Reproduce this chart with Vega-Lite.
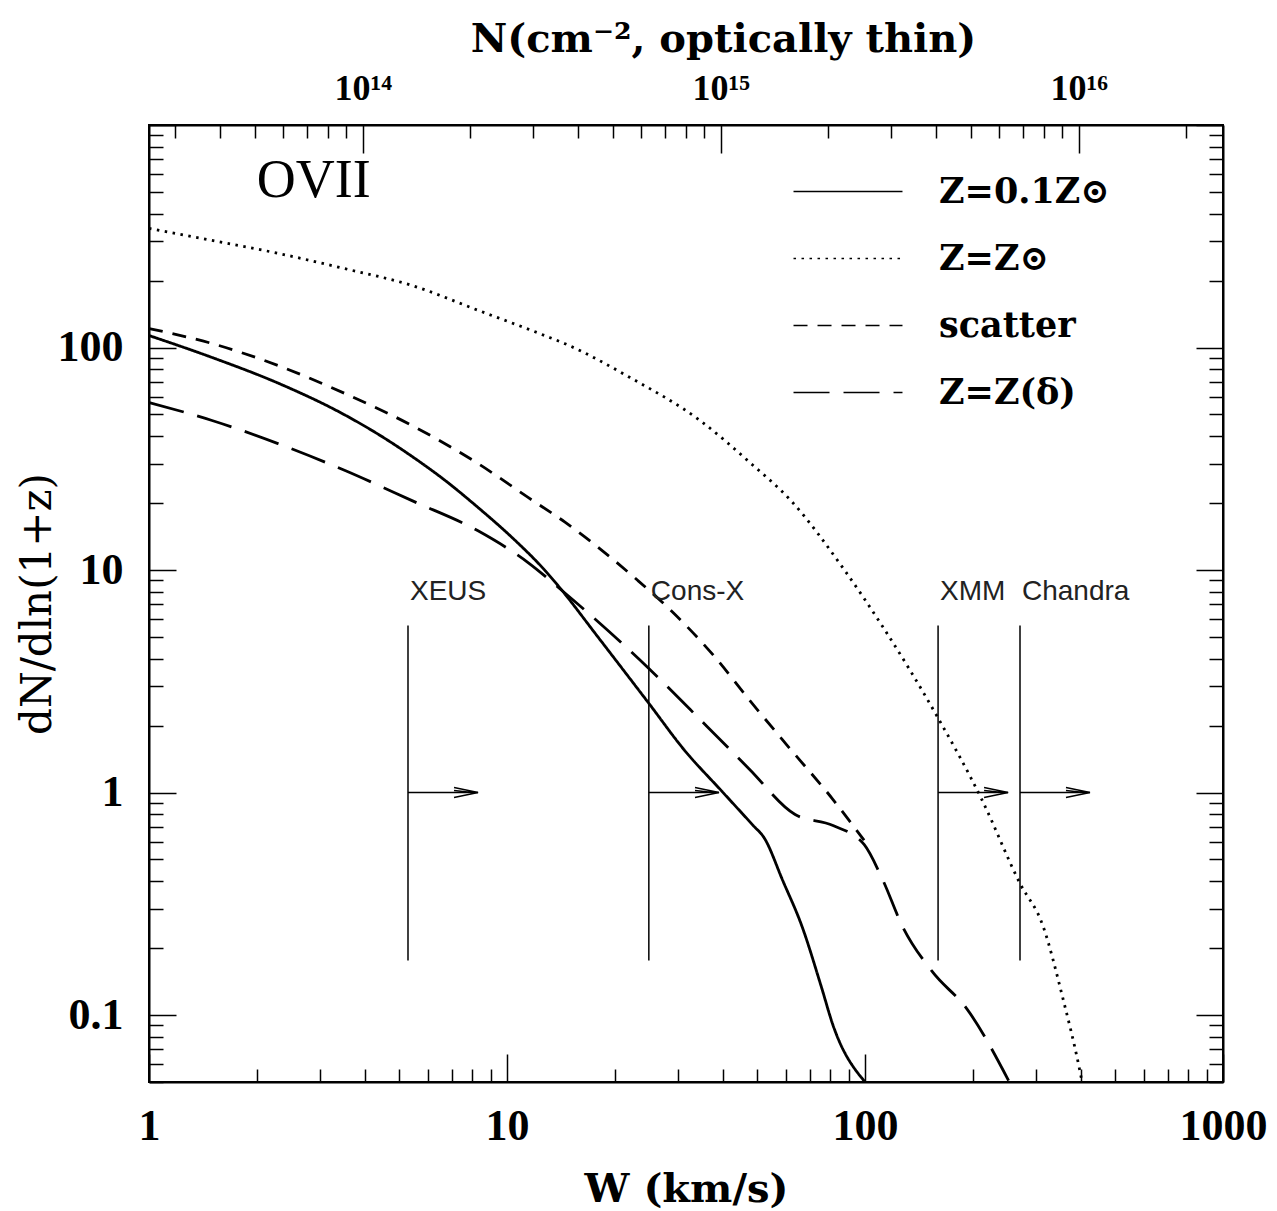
{
  "$schema": "https://vega.github.io/schema/vega-lite/v6.json",
  "width": 1074,
  "height": 957,
  "autosize": "none",
  "padding": {"left": 149, "top": 125, "right": 54, "bottom": 129},
  "background": "white",
  "config": {
    "view": {"stroke": "black", "strokeWidth": 2},
    "axis": {"grid": false}
  },
  "datasets": {
    "curves": [
      {"series": "Z=0.1Z⊙", "W": 1, "v": 113.2},
      {"series": "Z=0.1Z⊙", "W": 1.5, "v": 90.2},
      {"series": "Z=0.1Z⊙", "W": 2.293, "v": 69.2},
      {"series": "Z=0.1Z⊙", "W": 3.529, "v": 49.7},
      {"series": "Z=0.1Z⊙", "W": 4.363, "v": 40.8},
      {"series": "Z=0.1Z⊙", "W": 5.428, "v": 32.4},
      {"series": "Z=0.1Z⊙", "W": 6.71, "v": 25.3},
      {"series": "Z=0.1Z⊙", "W": 8.3, "v": 19.1},
      {"series": "Z=0.1Z⊙", "W": 10.33, "v": 14.0},
      {"series": "Z=0.1Z⊙", "W": 12.77, "v": 9.95},
      {"series": "Z=0.1Z⊙", "W": 14.24, "v": 8.1},
      {"series": "Z=0.1Z⊙", "W": 17.73, "v": 5.13},
      {"series": "Z=0.1Z⊙", "W": 24.93, "v": 2.51},
      {"series": "Z=0.1Z⊙", "W": 31.2, "v": 1.56},
      {"series": "Z=0.1Z⊙", "W": 39.9, "v": 1.01},
      {"series": "Z=0.1Z⊙", "W": 48.7, "v": 0.711},
      {"series": "Z=0.1Z⊙", "W": 52.2, "v": 0.628},
      {"series": "Z=0.1Z⊙", "W": 59.0, "v": 0.40},
      {"series": "Z=0.1Z⊙", "W": 66.7, "v": 0.25},
      {"series": "Z=0.1Z⊙", "W": 75.4, "v": 0.135},
      {"series": "Z=0.1Z⊙", "W": 81.4, "v": 0.09},
      {"series": "Z=0.1Z⊙", "W": 100, "v": 0.05},
      {"series": "Z=Z⊙", "W": 1, "v": 343},
      {"series": "Z=Z⊙", "W": 1.5, "v": 303},
      {"series": "Z=Z⊙", "W": 2.293, "v": 265},
      {"series": "Z=Z⊙", "W": 3.529, "v": 226},
      {"series": "Z=Z⊙", "W": 5.428, "v": 190},
      {"series": "Z=Z⊙", "W": 8.3, "v": 147},
      {"series": "Z=Z⊙", "W": 12.77, "v": 113},
      {"series": "Z=Z⊙", "W": 14.52, "v": 104},
      {"series": "Z=Z⊙", "W": 22.06, "v": 73.3},
      {"series": "Z=Z⊙", "W": 34.6, "v": 47.0},
      {"series": "Z=Z⊙", "W": 47.7, "v": 30.4},
      {"series": "Z=Z⊙", "W": 62.1, "v": 20.5},
      {"series": "Z=Z⊙", "W": 87.4, "v": 10.05},
      {"series": "Z=Z⊙", "W": 112, "v": 5.57},
      {"series": "Z=Z⊙", "W": 158, "v": 2.24},
      {"series": "Z=Z⊙", "W": 212, "v": 0.93},
      {"series": "Z=Z⊙", "W": 271, "v": 0.39},
      {"series": "Z=Z⊙", "W": 314, "v": 0.252},
      {"series": "Z=Z⊙", "W": 357, "v": 0.119},
      {"series": "Z=Z⊙", "W": 396, "v": 0.0587},
      {"series": "Z=Z⊙", "W": 404, "v": 0.05},
      {"series": "scatter", "W": 1, "v": 121.7},
      {"series": "scatter", "W": 1.5, "v": 104.2},
      {"series": "scatter", "W": 2.293, "v": 83.0},
      {"series": "scatter", "W": 3.529, "v": 62.1},
      {"series": "scatter", "W": 5.428, "v": 44.6},
      {"series": "scatter", "W": 8.3, "v": 30.1},
      {"series": "scatter", "W": 11.45, "v": 21.2},
      {"series": "scatter", "W": 14.52, "v": 16.4},
      {"series": "scatter", "W": 23.2, "v": 8.97},
      {"series": "scatter", "W": 28.9, "v": 6.51},
      {"series": "scatter", "W": 37.9, "v": 4.1},
      {"series": "scatter", "W": 47.4, "v": 2.62},
      {"series": "scatter", "W": 60.6, "v": 1.63},
      {"series": "scatter", "W": 81.4, "v": 0.93},
      {"series": "scatter", "W": 99.4, "v": 0.61},
      {"series": "Z=Z(δ)", "W": 1, "v": 56.6},
      {"series": "Z=Z(δ)", "W": 1.5, "v": 47.0},
      {"series": "Z=Z(δ)", "W": 2.293, "v": 37.0},
      {"series": "Z=Z(δ)", "W": 3.529, "v": 28.0},
      {"series": "Z=Z(δ)", "W": 5.428, "v": 20.5},
      {"series": "Z=Z(δ)", "W": 8.3, "v": 15.0},
      {"series": "Z=Z(δ)", "W": 11.45, "v": 10.8},
      {"series": "Z=Z(δ)", "W": 14.24, "v": 8.09},
      {"series": "Z=Z(δ)", "W": 24.9, "v": 3.61},
      {"series": "Z=Z(δ)", "W": 36.2, "v": 1.98},
      {"series": "Z=Z(δ)", "W": 47.4, "v": 1.28},
      {"series": "Z=Z(δ)", "W": 63.8, "v": 0.796},
      {"series": "Z=Z(δ)", "W": 81.4, "v": 0.711},
      {"series": "Z=Z(δ)", "W": 99.4, "v": 0.584},
      {"series": "Z=Z(δ)", "W": 112, "v": 0.406},
      {"series": "Z=Z(δ)", "W": 127, "v": 0.252},
      {"series": "Z=Z(δ)", "W": 154, "v": 0.157},
      {"series": "Z=Z(δ)", "W": 193, "v": 0.106},
      {"series": "Z=Z(δ)", "W": 253, "v": 0.05}
    ],
    "instruments": [
      {"name": "XEUS", "W": 5.29, "tip": 8.3, "lo": 0.176, "hi": 5.63, "arrow": 1, "labelV": 7.93},
      {"name": "Cons-X", "W": 24.9, "tip": 39.1, "lo": 0.176, "hi": 5.63, "arrow": 1, "labelV": 7.93},
      {"name": "XMM", "W": 160, "tip": 251, "lo": 0.176, "hi": 5.63, "arrow": 1, "labelV": 7.93},
      {"name": "Chandra", "W": 271, "tip": 425, "lo": 0.176, "hi": 5.63, "arrow": 1, "labelV": 7.93}
    ],
    "ion": [{"text": "OVII", "W": 2.0, "v": 563}]
  },
  "layer": [
    {
      "layer": [
        {
          "data": {"name": "curves"},
          "mark": {"type": "line", "clip": true, "color": "black", "strokeWidth": 2.8, "interpolate": "monotone"},
          "encoding": {
            "x": {
              "field": "W", "type": "quantitative",
              "scale": {"type": "log", "domain": [1, 1000]},
              "axis": {
                "orient": "bottom",
                "values": [1,2,3,4,5,6,7,8,9,10,20,30,40,50,60,70,80,90,100,200,300,400,500,600,700,800,900,1000],
                "labelExpr": "indexof([1,10,100,1000], datum.value) >= 0 ? toString(datum.value) : ''",
                "tickSize": {"condition": {"test": "abs(log(datum.value)/LN10 - round(log(datum.value)/LN10)) < 0.001", "value": -28}, "value": -13},
                "tickColor": "black", "tickWidth": 1.5,
                "domainColor": "black", "domainWidth": 2,
                "labelFont": "Liberation Serif", "labelFontWeight": "bold", "labelFontSize": 44, "labelColor": "black",
                "labelPadding": 50, "labelFlush": false, "labelOverlap": false, "labelBound": false,
                "title": "W (km/s)", "titleFont": "DejaVu Serif", "titleFontWeight": "bold", "titleFontSize": 40,
                "titleColor": "black", "titleY": 107, "titleBaseline": "middle"
              }
            },
            "y": {
              "field": "v", "type": "quantitative",
              "scale": {"type": "log", "domain": [0.05, 1000]},
              "axis": {
                "orient": "left",
                "values": [0.05,0.06,0.07,0.08,0.09,0.1,0.2,0.3,0.4,0.5,0.6,0.7,0.8,0.9,1,2,3,4,5,6,7,8,9,10,20,30,40,50,60,70,80,90,100,200,300,400,500,600,700,800,900,1000],
                "labelExpr": "indexof([0.1,1,10,100], datum.value) >= 0 ? toString(datum.value) : ''",
                "tickSize": {"condition": {"test": "abs(log(datum.value)/LN10 - round(log(datum.value)/LN10)) < 0.001", "value": -27}, "value": -14},
                "tickColor": "black", "tickWidth": 1.5,
                "domainColor": "black", "domainWidth": 2,
                "labelFont": "Liberation Serif", "labelFontWeight": "bold", "labelFontSize": 44, "labelColor": "black",
                "labelPadding": 53, "labelFlush": false, "labelOverlap": false, "labelBound": false,
                "title": "dN/dln(1+z)", "titleFont": "DejaVu Serif", "titleFontWeight": "normal", "titleFontSize": 42,
                "titleColor": "black", "titleX": -112, "titleBaseline": "middle"
              }
            },
            "strokeDash": {
              "field": "series", "type": "nominal",
              "scale": {
                "domain": ["Z=0.1Z⊙", "Z=Z⊙", "scatter", "Z=Z(δ)"],
                "range": [[1, 0], [2.5, 5.5], [14, 10], [36, 14]]
              },
              "legend": {
                "orient": "none", "legendX": 681.5, "legendY": 49,
                "title": null, "padding": 0,
                "symbolType": "M-5,0H5", "symbolSize": 475, "symbolStrokeWidth": 1.6,
                "symbolStrokeColor": "black",
                "labelFont": "DejaVu Serif", "labelFontWeight": "bold", "labelFontSize": 35, "labelColor": "black",
                "labelOffset": 73.5, "rowPadding": 31, "labelLimit": 0
              }
            }
          }
        },
        {
          "data": {"name": "instruments"},
          "mark": {"type": "rule", "color": "black", "strokeWidth": 1.5},
          "encoding": {
            "x": {"field": "W", "type": "quantitative", "scale": {"type": "log", "domain": [1, 1000]}},
            "y": {"field": "lo", "type": "quantitative", "scale": {"type": "log", "domain": [0.05, 1000]}},
            "y2": {"field": "hi"}
          }
        },
        {
          "data": {"name": "instruments"},
          "mark": {"type": "rule", "color": "black", "strokeWidth": 1.5},
          "encoding": {
            "x": {"field": "W", "type": "quantitative", "scale": {"type": "log", "domain": [1, 1000]}},
            "x2": {"field": "tip"},
            "y": {"field": "arrow", "type": "quantitative", "scale": {"type": "log", "domain": [0.05, 1000]}}
          }
        },
        {
          "data": {"name": "instruments"},
          "mark": {"type": "point", "shape": "M-2.4,-0.5L0,0L-2.4,0.5M-2.4,-0.2L-0.6,0", "filled": false, "color": "black", "strokeWidth": 1.5, "size": 400, "opacity": 1},
          "encoding": {
            "x": {"field": "tip", "type": "quantitative", "scale": {"type": "log", "domain": [1, 1000]}},
            "y": {"field": "arrow", "type": "quantitative", "scale": {"type": "log", "domain": [0.05, 1000]}}
          }
        },
        {
          "data": {"name": "instruments"},
          "mark": {"type": "text", "align": "left", "baseline": "middle", "dx": 2, "font": "Liberation Sans", "fontSize": 28, "color": "#222222"},
          "encoding": {
            "x": {"field": "W", "type": "quantitative", "scale": {"type": "log", "domain": [1, 1000]}},
            "y": {"field": "labelV", "type": "quantitative", "scale": {"type": "log", "domain": [0.05, 1000]}},
            "text": {"field": "name"}
          }
        },
        {
          "data": {"name": "ion"},
          "mark": {"type": "text", "align": "left", "baseline": "middle", "font": "Liberation Serif", "fontSize": 54, "color": "black"},
          "encoding": {
            "x": {"field": "W", "type": "quantitative", "scale": {"type": "log", "domain": [1, 1000]}},
            "y": {"field": "v", "type": "quantitative", "scale": {"type": "log", "domain": [0.05, 1000]}},
            "text": {"field": "text"}
          }
        }
      ]
    },
    {
      "data": {"values": [{"N": 1e15, "v": 1}]},
      "mark": {"type": "point", "opacity": 0},
      "encoding": {
        "x": {
          "field": "N", "type": "quantitative",
          "scale": {"type": "log", "domain": [2.53e13, 2.53e16]},
          "axis": {
            "orient": "top",
            "values": [3e13,4e13,5e13,6e13,7e13,8e13,9e13,1e14,2e14,3e14,4e14,5e14,6e14,7e14,8e14,9e14,1e15,2e15,3e15,4e15,5e15,6e15,7e15,8e15,9e15,1e16,2e16],
            "labelExpr": "abs(log(datum.value)/LN10 - 14) < 0.001 ? '10¹⁴' : abs(log(datum.value)/LN10 - 15) < 0.001 ? '10¹⁵' : abs(log(datum.value)/LN10 - 16) < 0.001 ? '10¹⁶' : ''",
            "tickSize": {"condition": {"test": "abs(log(datum.value)/LN10 - round(log(datum.value)/LN10)) < 0.001", "value": -28}, "value": -13},
            "tickColor": "black", "tickWidth": 1.5,
            "domainColor": "black", "domainWidth": 2,
            "labelFont": "Liberation Serif", "labelFontWeight": "bold", "labelFontSize": 36, "labelColor": "black",
            "labelPadding": 46, "labelFlush": false, "labelOverlap": false, "labelBound": false,
            "title": "N(cm⁻², optically thin)", "titleFont": "DejaVu Serif", "titleFontWeight": "bold", "titleFontSize": 40,
            "titleColor": "black", "titleX": 574, "titleY": -86, "titleAlign": "center", "titleBaseline": "middle"
          }
        },
        "y": {
          "field": "v", "type": "quantitative",
          "scale": {"type": "log", "domain": [0.05, 1000]},
          "axis": {
            "orient": "right",
            "values": [0.05,0.06,0.07,0.08,0.09,0.1,0.2,0.3,0.4,0.5,0.6,0.7,0.8,0.9,1,2,3,4,5,6,7,8,9,10,20,30,40,50,60,70,80,90,100,200,300,400,500,600,700,800,900,1000],
            "labels": false, "title": null,
            "tickSize": {"condition": {"test": "abs(log(datum.value)/LN10 - round(log(datum.value)/LN10)) < 0.001", "value": -27}, "value": -14},
            "tickColor": "black", "tickWidth": 1.5,
            "domainColor": "black", "domainWidth": 2
          }
        }
      }
    }
  ],
  "resolve": {"scale": {"x": "independent", "y": "independent"}}
}
